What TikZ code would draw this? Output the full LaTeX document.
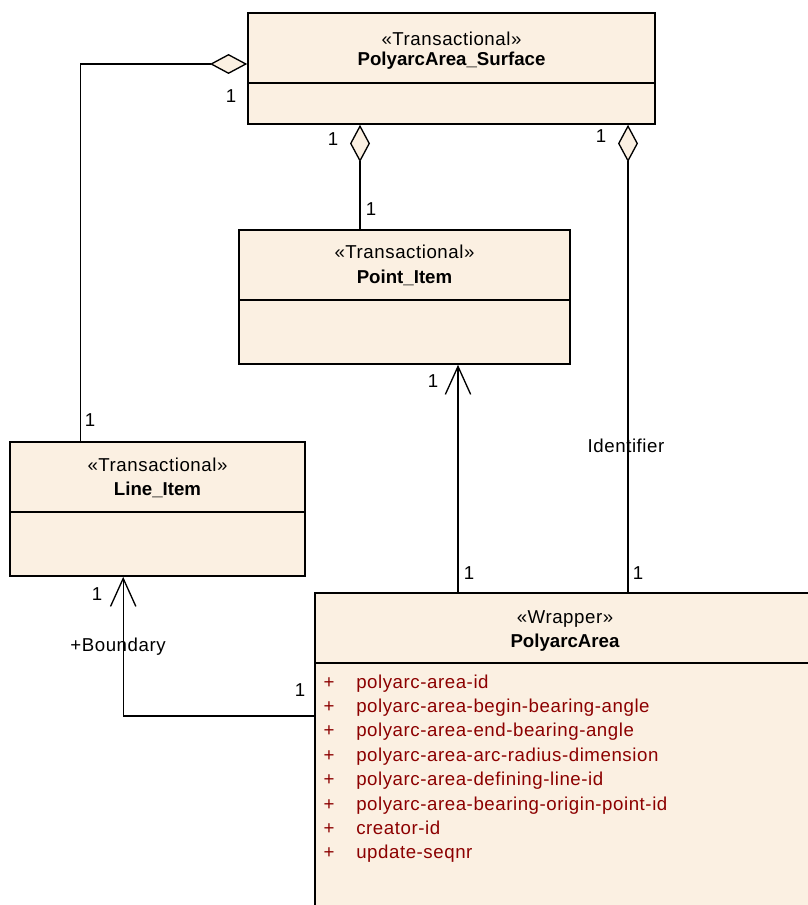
\documentclass[tikz,border=0pt]{standalone}
\usepackage{fontspec}
\setmainfont{Liberation Sans}[LetterSpace=3, BoldFeatures={LetterSpace=0}]
\usetikzlibrary{arrows.meta,calc,fit}
\definecolor{classfill}{RGB}{251,240,226}
\definecolor{attrred}{RGB}{140,0,0}
\tikzset{
  classbox/.style={draw, line width=1.2pt, fill=classfill, inner sep=0pt},
  stereo/.style={anchor=base, inner sep=0pt, font=\fontsize{14}{16}\selectfont},
  classname/.style={anchor=base, inner sep=0pt, font=\fontsize{14}{16}\selectfont\bfseries},
  mult/.style={inner sep=0pt, font=\fontsize{14}{16}\selectfont},
  attr/.style={anchor=base west, inner sep=0pt, text=attrred, font=\fontsize{14}{16}\selectfont},
  agg/.style={line width=1pt, -{Diamond[length=28pt,width=15pt,fill=classfill]}},
  nav/.style={line width=1pt, -{Straight Barb[length=21pt,width=19pt]}},
}
\begin{document}
\begin{tikzpicture}[x=0.75pt, y=-0.75pt]
    \useasboundingbox (0,0) rectangle (807,905);

    % 类框
    \node[classbox, fit={(248,13) (655,124)}] (surface) {};
    \node[classbox, fit={(239,230) (570,364)}] (point) {};
    \node[classbox, fit={(10,442) (305,576)}] (line) {};
    \node[classbox, fit={(315,593) (815,915)}] (poly) {};

    % 分隔线
    \draw[line width=1.2pt] (surface.west |- 0,83) -- (surface.east |- 0,83);
    \draw[line width=1.2pt] (point.west |- 0,300) -- (point.east |- 0,300);
    \draw[line width=1.2pt] (line.west |- 0,512) -- (line.east |- 0,512);
    \draw[line width=1.2pt] (poly.west |- 0,663) -- (poly.east |- 0,663);

    % 类名
    \node[stereo] (surfaceSt) at (surface.north |- 0,46) {«Transactional»};
    \node[classname] (surfaceNm) at (surface.north |- 0,66) {PolyarcArea\_Surface};
    \node[stereo] (pointSt) at (point.north |- 0,259) {«Transactional»};
    \node[classname] (pointNm) at (point.north |- 0,283) {Point\_Item};
    \node[stereo] (lineSt) at (line.north |- 0,471) {«Transactional»};
    \node[classname] (lineNm) at (line.north |- 0,495) {Line\_Item};
    \node[stereo] (polySt) at (565,623) {«Wrapper»};
    \node[classname] (polyNm) at (565,647) {PolyarcArea};

    % 属性
    \foreach \a [count=\i] in {polyarc-area-id, polyarc-area-begin-bearing-angle,
        polyarc-area-end-bearing-angle, polyarc-area-arc-radius-dimension,
        polyarc-area-defining-line-id, polyarc-area-bearing-origin-point-id,
        creator-id, update-seqnr} {
        \node[attr, anchor=base] (plus\i) at (329, {688+24.4*(\i-1)}) {+};
        \node[attr] (attr\i) at (356, {688+24.4*(\i-1)}) {\a};
    }

    % 聚合
    \draw[agg] ($(line.north west)+(71,0)$) |- (surface.west |- 0,64);
    \draw[agg] (point.north -| 360,0) -- (surface.south -| 360,0);
    \draw[agg] (poly.north -| 628,0) -- (surface.south -| 628,0);

    % 关联
    \draw[nav] (poly.north -| 458,0) -- (point.south -| 458,0);
    \draw[nav] (poly.west |- 0,716) -| ($(line.south west)+(114,0)$);

    % 标注
    \node[mult] (m1) at (231,96) {1};
    \node[mult] (m2) at (90,420) {1};
    \node[mult] (m3) at (333,139) {1};
    \node[mult] (m4) at (371,209) {1};
    \node[mult] (m5) at (601,136) {1};
    \node[mult] (m6) at (638,573) {1};
    \node[mult] (m7) at (433,381) {1};
    \node[mult] (m8) at (469,573) {1};
    \node[mult] (m9) at (97,594) {1};
    \node[mult] (m10) at (300,690) {1};
    \node[mult] (ident) at (626,446) {Identifier};
    \node[mult] (bound) at (118,647) {+Boundary};
\end{tikzpicture}
\end{document}
